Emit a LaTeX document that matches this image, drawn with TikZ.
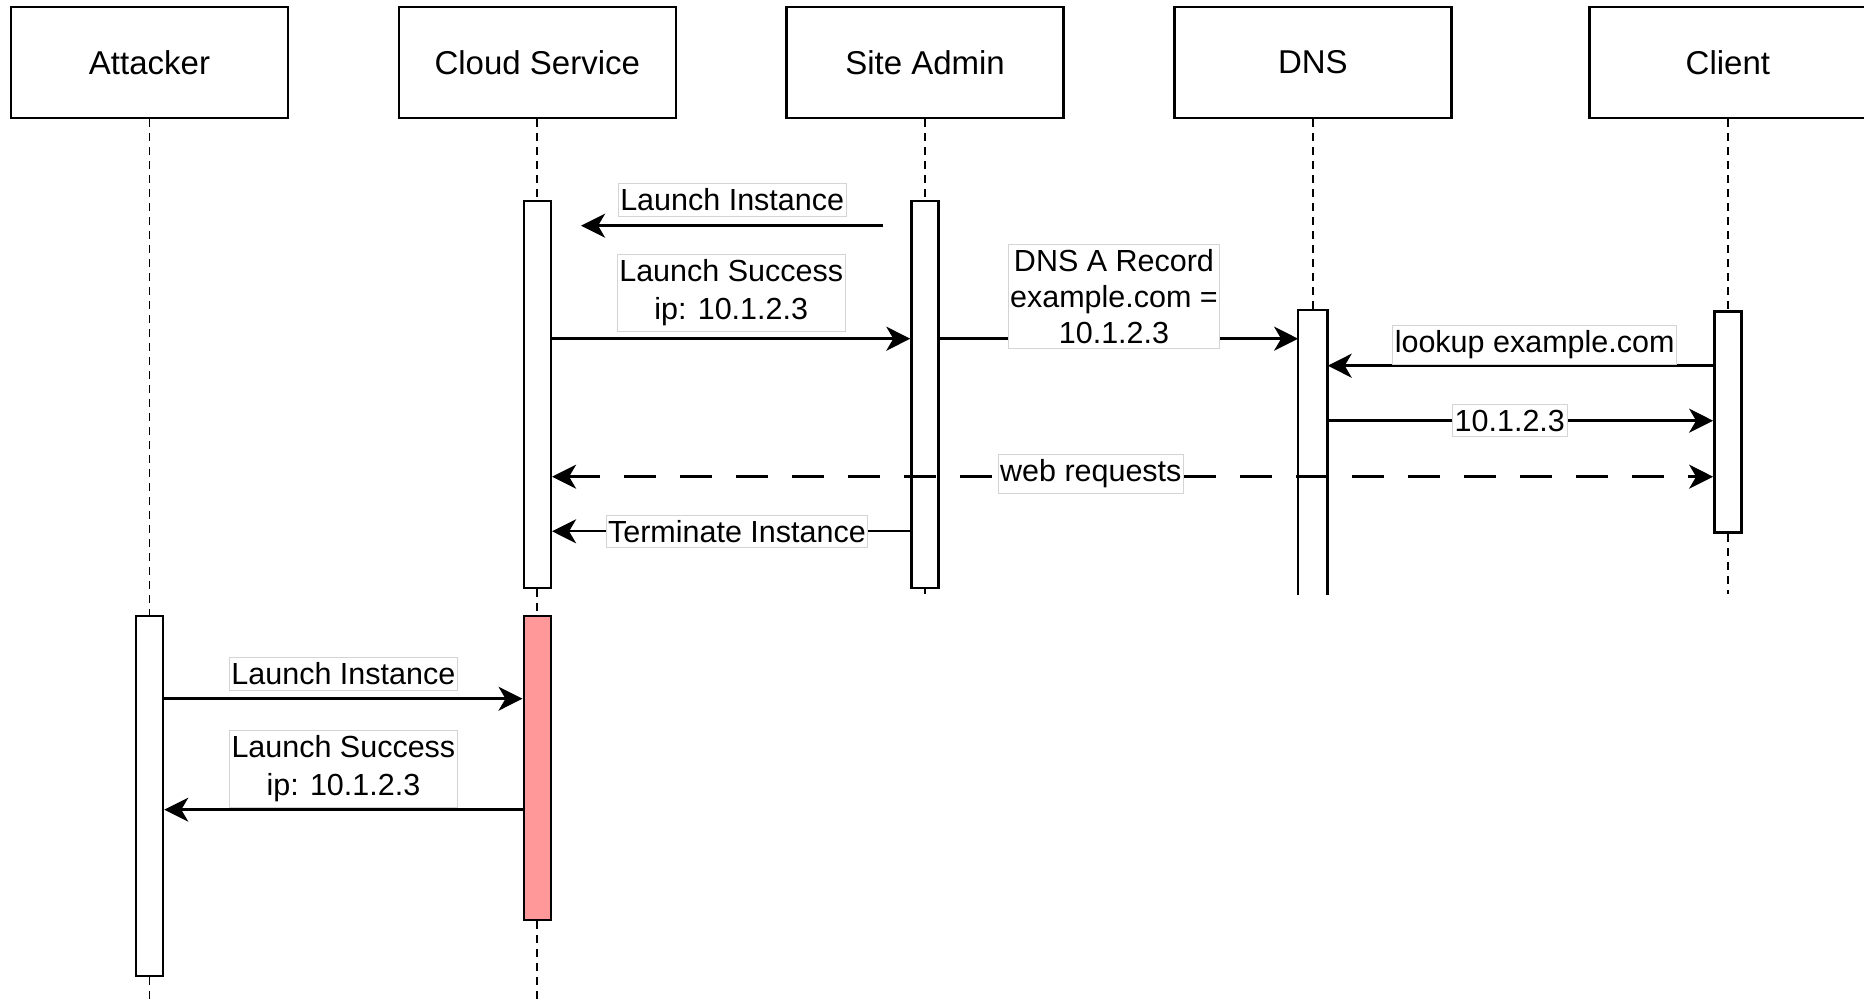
\documentclass[tikz,border=0pt]{standalone}
\usepackage{fontspec}
\setmainfont{Liberation Sans}
\usepackage{xcolor}
\definecolor{SeqRed}{HTML}{FF9999}
\definecolor{SeqTag}{HTML}{D4D4D4}
\usepackage{tikz}
\usetikzlibrary{arrows.meta,positioning}

\begin{document}
\begin{tikzpicture}[
  x=0.5pt,y=-0.5pt,
  actor/.style={draw,line width=1.3pt,minimum width=138.5pt,minimum height=55.5pt,font=\fontsize{16.5}{19}\selectfont},
  bar/.style={draw,fill=white,line width=1.3pt,minimum width=13.5pt,inner sep=0pt},
  life/.style={line width=0.9pt,dash pattern=on 4pt off 3pt},
  msg/.style={-{Stealth[length=12pt,width=12pt,inset=3.5pt]},line width=1.2pt},
  webflow/.style={{Stealth[length=12pt,width=12pt,inset=3.5pt]}-{Stealth[length=12pt,width=12pt,inset=3.5pt]},line width=1.2pt,dash pattern=on 16pt off 12pt},
  tag/.style={solid,draw=SeqTag,line width=0.4pt,fill=white,inner xsep=1pt,inner ysep=2.5pt,align=center,font=\fontsize{15.25}{19}\selectfont}
]
\useasboundingbox (0,0) rectangle (1864,1004);
\coordinate (floor) at (0,1004);
\coordinate (cut) at (0,594);

\node[actor] at (149.5,62.5) (att) {Attacker};
\node[actor,right=54.1pt of att] (cloud) {Cloud Service};
\node[actor,right=54.1pt of cloud] (admin) {Site Admin};
\node[actor,right=54.1pt of admin] (dns) {DNS};
\node[actor,right=67.7pt of dns] (client) {Client};

\node[bar,minimum height=193.5pt,below=40.2pt of cloud] (cs1) {};
\node[bar,minimum height=193.5pt,below=40.2pt of admin] (sa) {};
\node[bar,draw=none,minimum height=141.25pt,below=95.45pt of dns] (dnsb) {};
\node[bar,minimum height=110.5pt,below=95.45pt of client] (cl) {};
\node[bar,minimum height=180pt,below=247.7pt of att] (ab) {};
\node[bar,fill=SeqRed,minimum height=152pt,below=247.7pt of cloud] (cs2) {};

\draw[life] (att) -- (ab);
\draw[life] (ab.south) -- (ab.south |- floor);
\draw[life] (cloud) -- (cs1);
\draw[life] (cs1) -- (cs2);
\draw[life] (cs2.south) -- (cs2.south |- floor);
\draw[life] (admin) -- (sa);
\draw[life] (sa.south) -- (sa.south |- cut);
\draw[life] (dns) -- (dnsb);
\draw[life] (client) -- (cl);
\draw[life] (cl.south) -- (cl.south |- cut);

\draw[line width=1.3pt] (dnsb.south west) -- (dnsb.north west) -- (dnsb.north east) -- (dnsb.south east);

\draw[msg] ([xshift=-13.5pt,yshift=-13pt]sa.north west) -- ([xshift=14.5pt,yshift=-13pt]cs1.north east)
  node[tag,midway,above=4.5pt] {Launch Instance};
\draw[msg] ([yshift=-69.5pt]cs1.north east) -- ([yshift=-69.5pt]sa.north west)
  node[tag,midway,above=3.5pt] {Launch Success\\ip: 10.1.2.3};
\draw[msg] ([yshift=-69.5pt]sa.north east) -- ([yshift=-14.25pt]dnsb.north west)
  node[tag,pos=0.486,yshift=21pt,font=\fontsize{15.25}{18}\selectfont] {DNS A Record\\example.com =\\10.1.2.3};
\draw[msg] ([yshift=-27.75pt]cl.north west) -- ([yshift=-27.75pt]dnsb.north east)
  node[tag,pos=0.463,above=0.5pt] {lookup example.com};
\draw[msg] ([yshift=-55.25pt]dnsb.north east) -- ([yshift=-55.25pt]cl.north west)
  node[tag,pos=0.4725] {10.1.2.3};
\draw[webflow] ([yshift=-138.5pt]cs1.north east) -- ([yshift=-83.25pt]cl.north west)
  node[tag,pos=0.464,yshift=1.5pt] {web requests};
\draw[msg] ([yshift=-165.8pt]sa.north west) -- ([yshift=-165.8pt]cs1.north east)
  node[tag,pos=0.484] {Terminate Instance};

\draw[msg] ([yshift=-42pt]ab.north east) -- ([yshift=-42pt]cs2.north west)
  node[tag,midway,above=4pt] {Launch Instance};
\draw[msg] ([yshift=-97.5pt]cs2.north west) -- ([yshift=-97.5pt]ab.north east)
  node[tag,midway,above=1pt] {Launch Success\\ip: 10.1.2.3};
\end{tikzpicture}
\end{document}
